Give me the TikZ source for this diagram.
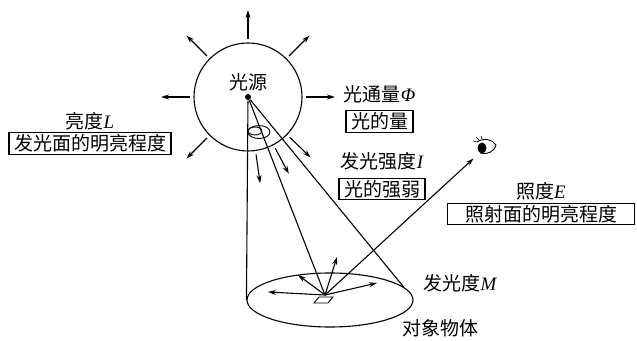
\documentclass[tikz,border=0pt]{standalone}
\usepackage{amsmath}
\usepackage{fontspec}
\newfontfamily\cjk{Noto Sans CJK SC}
\newfontfamily\latin{Liberation Serif}
\newcommand\qsym[1]{{\latin\itshape #1}}
\usetikzlibrary{arrows.meta}
\usetikzlibrary{positioning}
\usetikzlibrary{shapes.geometric}

\begin{document}
\begin{tikzpicture}[x=1pt,y=1pt,line width=1.1pt,>={Stealth[length=8pt,width=5pt]},
		ray/.style={->},
		word/.style={font=\cjk\fontsize{19}{21}\selectfont,inner sep=1pt},
		term box/.style={word,draw,inner xsep=5pt,inner ysep=2pt}]
	\useasboundingbox (0,0) rectangle (637,340);
	
	% light source and its halo
	\node[circle,fill,inner sep=0pt,minimum size=6pt] (src) at (248,243) {};
	\node[circle,draw,inner sep=0pt,minimum size=108pt] (halo) at (src) {};
	\node[word] (srcname) at (248,258) {光源};
	\foreach \a in {90,45,0,135,180,225,-44,-62,-82}
		\draw[ray] (src) ++(\a:58) -- ++(\a:29);
	\draw[line width=0.9pt] (259,208) ellipse (11 and 6.5);
	\draw[line width=0.9pt] (255,209) ellipse (7 and 4);
	
	% lit surface
	\node[ellipse,draw,inner sep=0pt,minimum width=166pt,minimum height=54pt] (ground) at (330,40) {};
	\coordinate (obj) at (325,45);
	\draw[line width=0.9pt] (314,37) -- (328,37) -- (333,43) -- (319,43) -- cycle;
	\draw (src) -- (ground.west);
	\draw (src) -- (obj);
	\draw (src) -- (ground.10);
	\foreach \p in {(337,83),(298,65),(268,48),(377,57)}
		\draw[ray] (obj) -- \p;
	
	% observer
	\coordinate (eye) at (486,193);
	\draw[ray,shorten >=17pt] (obj) -- (eye);
	\draw[line width=0.9pt] (477,198) .. controls (484,203) and (493,200) .. (496,195)
		.. controls (494,188) and (487,185) .. (480,187);
	\fill (482,192) ellipse (4.5 and 5.5);
	\draw[line width=0.6pt] (477,198) -- (473,199) (479,200) -- (476,203) (482,201) -- (481,204);
	
	% quantities
	\node[term box] (qty) at (379.5,218.5) {光的量};
	\node[word,above=6pt of qty] (fluxname) {光通量\qsym{Φ}};
	\node[term box] (strength) at (382,151) {光的强弱};
	\node[word,above=6pt of strength] (intname) {发光强度\qsym{I}};
	\node[term box] (srcface) at (90,196.5) {发光面的明亮程度};
	\node[word,above=1pt of srcface] (lumname) {亮度\qsym{L}};
	\node[term box,minimum width=187pt] (litface) at (541,126) {照射面的明亮程度};
	\node[word,above=1pt of litface] (illname) {照度\qsym{E}};
	\node[word] (exitance) at (460,57) {发光度\qsym{M}};
	\node[word] (target) at (440,12) {对象物体};
\end{tikzpicture}
\end{document}
